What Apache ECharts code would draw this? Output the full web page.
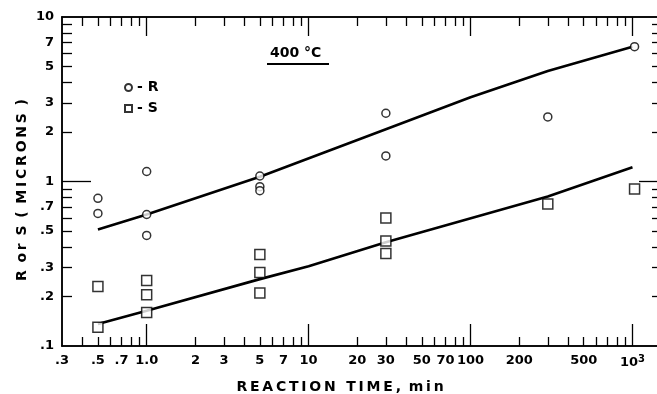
<!DOCTYPE html>
<html>
<head>
<meta charset="utf-8">
<script src="https://cdn.jsdelivr.net/npm/echarts@6/dist/echarts.min.js"></script>
<style>
html,body{margin:0;padding:0;background:#fff;}
#chart{width:657px;height:394px;}
</style>
</head>
<body>
<div id="chart"></div>
<script>
// ---- data ----
const rTime = [0.5, 0.5, 1, 1, 1, 5, 5, 5, 30, 30, 300, 1030];
const rVal  = [0.79, 0.64, 1.15, 0.63, 0.47, 1.08, 0.93, 0.88, 2.6, 1.43, 2.47, 6.6];
const sTime = [0.5, 0.5, 1, 1, 1, 5, 5, 5, 30, 30, 30, 300, 1030];
const sVal  = [0.23, 0.13, 0.25, 0.205, 0.16, 0.36, 0.28, 0.21, 0.6, 0.435, 0.365, 0.73, 0.9];
const rFitTime = [0.5, 1, 5, 30, 100, 300, 1000];
const rFitVal  = [0.51, 0.63, 1.07, 2.08, 3.25, 4.7, 6.6];
const sFitTime = [0.5, 1, 5, 10, 30, 300, 1000];
const sFitVal  = [0.136, 0.164, 0.255, 0.305, 0.427, 0.81, 1.22];

const xLabelVals  = [0.3, 0.5, 0.7, 1, 2, 3, 5, 7, 10, 20, 30, 50, 70, 100, 200, 500, 1000];
const xLabelTexts = ['.3', '.5', '.7', '1.0', '2', '3', '5', '7', '10', '20', '30', '50', '70', '100', '200', '500', '10{sup|3}'];
const yLabelVals  = [0.1, 0.2, 0.3, 0.5, 0.7, 1, 2, 3, 5, 7, 10];
const yLabelTexts = ['.1', '.2', '.3', '.5', '.7', '1', '2', '3', '5', '7', '10'];
const xMinorTicks = [0.4, 0.5, 0.6, 0.7, 0.8, 0.9, 2, 3, 4, 5, 6, 7, 8, 9, 20, 30, 40, 50, 60, 70, 80, 90, 200, 300, 400, 500, 600, 700, 800, 900];
const xMajorTicks = [1, 10, 100, 1000];
const yMinorTicks = [0.2, 0.3, 0.4, 0.5, 0.6, 0.7, 0.8, 0.9, 2, 3, 4, 5, 6, 7, 8, 9];
const yMajorTicks = [1];

const zip = (a, b) => a.map((v, i) => [v, b[i]]);
const lookup = (vals, texts) => (v) => {
  for (let i = 0; i < vals.length; i++) {
    if (Math.abs(v - vals[i]) / vals[i] < 1e-4) return texts[i];
  }
  return '';
};

const FONT = 'DejaVu Sans';
const lblStyle = {color: '#000', fontFamily: FONT, fontWeight: 'bold', fontSize: 13};
const lineStyle = {color: '#000', width: 1.5};
const GRID = {left: 62, top: 17, width: 599, height: 329, containLabel: false, outerBoundsMode: 'none'};
const XR = {type: 'log', logBase: 10, min: 0.3, max: 1500};
const YR = {type: 'log', logBase: 10, min: 0.1, max: 10};

function xAxis(grid, pos, ticks, len, labels) {
  return Object.assign({}, XR, {
    gridIndex: grid, position: pos,
    axisLine: {show: true, lineStyle: lineStyle},
    axisTick: {show: true, inside: true, length: len, customValues: ticks, lineStyle: {color: '#000', width: 1.3}},
    axisLabel: labels ? Object.assign({show: true, margin: 8, customValues: xLabelVals,
      formatter: lookup(xLabelVals, xLabelTexts),
      rich: {sup: {fontFamily: FONT, fontWeight: 'bold', fontSize: 10, verticalAlign: 'top', padding: [0, 0, 8, 0]}}}, lblStyle)
      : {show: false},
    splitLine: {show: false}, minorTick: {show: false}
  });
}
function yAxis(grid, pos, ticks, len, labels) {
  return Object.assign({}, YR, {
    gridIndex: grid, position: pos,
    axisLine: {show: true, lineStyle: lineStyle},
    axisTick: {show: true, inside: true, length: len, customValues: ticks, lineStyle: {color: '#000', width: 1.3}},
    axisLabel: labels ? Object.assign({show: true, margin: 8, customValues: yLabelVals,
      formatter: lookup(yLabelVals, yLabelTexts)}, lblStyle) : {show: false},
    splitLine: {show: false}, minorTick: {show: false}
  });
}

const pointStyle = {color: '#fff', borderColor: '#000', borderWidth: 1.5};

const option = {
  animation: false,
  backgroundColor: '#fff',
  grid: [GRID, Object.assign({}, GRID)],
  xAxis: [
    xAxis(0, 'bottom', xMinorTicks, 9, true),
    xAxis(0, 'top', xMinorTicks, 9, false),
    xAxis(1, 'bottom', xMajorTicks, 22, false),
    xAxis(1, 'top', xMajorTicks, 19, false)
  ],
  yAxis: [
    yAxis(0, 'left', yMinorTicks, 10, true),
    yAxis(0, 'right', yMinorTicks, 9, false),
    yAxis(1, 'left', yMajorTicks, 29, false),
    yAxis(1, 'right', yMajorTicks, 22, false)
  ],
  legend: {
    data: ['R', 'S'], orient: 'vertical', left: 119, top: 75, itemGap: 6,
    itemWidth: 7, itemHeight: 7, formatter: '- {name}',
    textStyle: {color: '#000', fontFamily: FONT, fontWeight: 'bold', fontSize: 14, lineHeight: 15}
  },
  series: [
    {name: 'R fit', type: 'line', xAxisIndex: 0, yAxisIndex: 0, data: zip(rFitTime, rFitVal),
      showSymbol: false, symbol: 'none', smooth: false, lineStyle: {color: '#000', width: 2.6}, z: 2},
    {name: 'S fit', type: 'line', xAxisIndex: 0, yAxisIndex: 0, data: zip(sFitTime, sFitVal),
      showSymbol: false, symbol: 'none', smooth: false, lineStyle: {color: '#000', width: 2.6}, z: 2},
    {name: 'R', type: 'scatter', xAxisIndex: 0, yAxisIndex: 0, data: zip(rTime, rVal),
      symbol: 'circle', symbolSize: 8, itemStyle: pointStyle, z: 3},
    {name: 'S', type: 'scatter', xAxisIndex: 0, yAxisIndex: 0, data: zip(sTime, sVal),
      symbol: 'rect', symbolSize: 10, itemStyle: pointStyle, z: 3}
  ],
  graphic: [
    {type: 'text', x: 270, y: 53, style: {text: '400 °C', fill: '#000', font: 'bold 14px "DejaVu Sans"', align: 'left', verticalAlign: 'middle', textAlign: 'left', textVerticalAlign: 'middle'}},
    {type: 'line', shape: {x1: 267, y1: 64, x2: 329, y2: 64}, style: {stroke: '#000', lineWidth: 2}},
    {type: 'text', x: 340, y: 387, style: {text: 'R\u2009E\u2009A\u2009C\u2009T\u2009I\u2009O\u2009N\u2009 \u2009T\u2009I\u2009M\u2009E\u2009, \u2009m\u2009i\u2009n', fill: '#000', font: 'bold 14px "DejaVu Sans"', align: 'center', verticalAlign: 'middle', textAlign: 'center', textVerticalAlign: 'middle'}},
    {type: 'text', x: 22, y: 190, rotation: Math.PI / 2, style: {text: 'R\u2009 o\u2009r\u2009 S\u2009 (\u2009 M\u2009I\u2009C\u2009R\u2009O\u2009N\u2009S\u2009 )', fill: '#000', font: 'bold 14px "DejaVu Sans"', align: 'center', verticalAlign: 'middle', textAlign: 'center', textVerticalAlign: 'middle'}}
  ]
};

const chart = echarts.init(document.getElementById('chart'), null, {renderer: 'canvas'});
chart.setOption(option);
</script>
</body>
</html>
